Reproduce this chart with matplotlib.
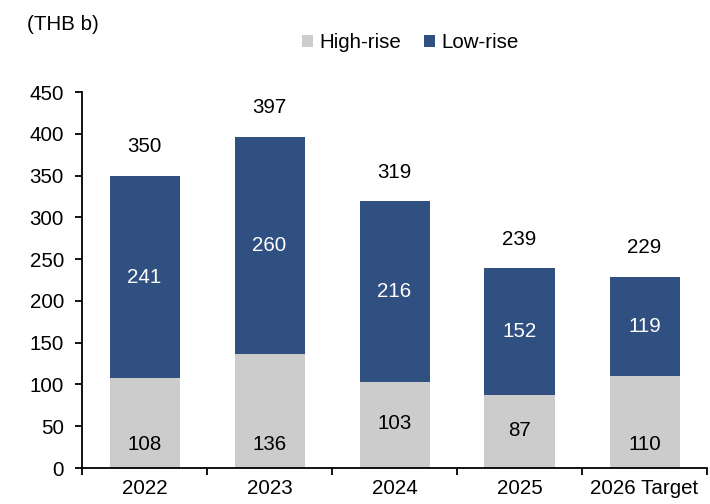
import matplotlib.pyplot as plt
import numpy as np

plt.rcParams['font.family'] = ['Liberation Sans', 'DejaVu Sans']

years = ["2022", "2023", "2024", "2025", "2026 Target"]
high_rise = [108, 136, 103, 87, 110]
low_rise = [241, 260, 216, 152, 119]
totals = [350, 397, 319, 239, 229]
# where the high-rise numbers sit inside the grey bars
high_label_y = [28, 28, 53, 45, 28]

grey = "#CCCCCC"
blue = "#2F5080"
fs = 14.8

fig = plt.figure(figsize=(7.1, 5.04), dpi=100)
ax = fig.add_axes([82 / 710, 1 - 468 / 504, 625 / 710, 376 / 504])

x = np.arange(len(years))
ax.bar(x, high_rise, width=0.56, color=grey, label="High-rise")
ax.bar(x, low_rise, width=0.56, bottom=high_rise, color=blue, label="Low-rise")

for i in range(len(years)):
    ax.text(x[i], high_label_y[i], str(high_rise[i]), ha="center", va="center", fontsize=fs)
    ax.text(x[i], high_rise[i] + low_rise[i] / 2, str(low_rise[i]), ha="center", va="center",
            fontsize=fs, color="white")
    ax.text(x[i], totals[i] + 35, str(totals[i]), ha="center", va="center", fontsize=fs)

ax.set_xlim(-0.5, len(years) - 0.5)
ax.set_ylim(0, 450)
ax.set_yticks(range(0, 451, 50))
ax.set_xticks(x)
ax.set_xticklabels(years)
ax.set_xticks(np.arange(-0.5, len(years), 1), minor=True)
ax.tick_params(axis="x", which="major", length=0, labelsize=fs, pad=8)
ax.tick_params(axis="x", which="minor", length=5, width=1.3, direction="out")
ax.tick_params(axis="y", length=5, width=1.3, labelsize=fs, pad=8)

for s in ["top", "right"]:
    ax.spines[s].set_visible(False)
for s in ["left", "bottom"]:
    ax.spines[s].set_linewidth(1.3)

fig.text(27 / 710, 1 - 25 / 504, "(THB b)", fontsize=fs, va="center", ha="left")
fig.legend(loc="center", bbox_to_anchor=(410 / 710, 1 - 43 / 504), ncol=2, frameon=False,
           fontsize=fs, handlelength=0.55, handleheight=0.55, handletextpad=0.3,
           columnspacing=1.1)

fig.savefig("out.png", dpi=100)
